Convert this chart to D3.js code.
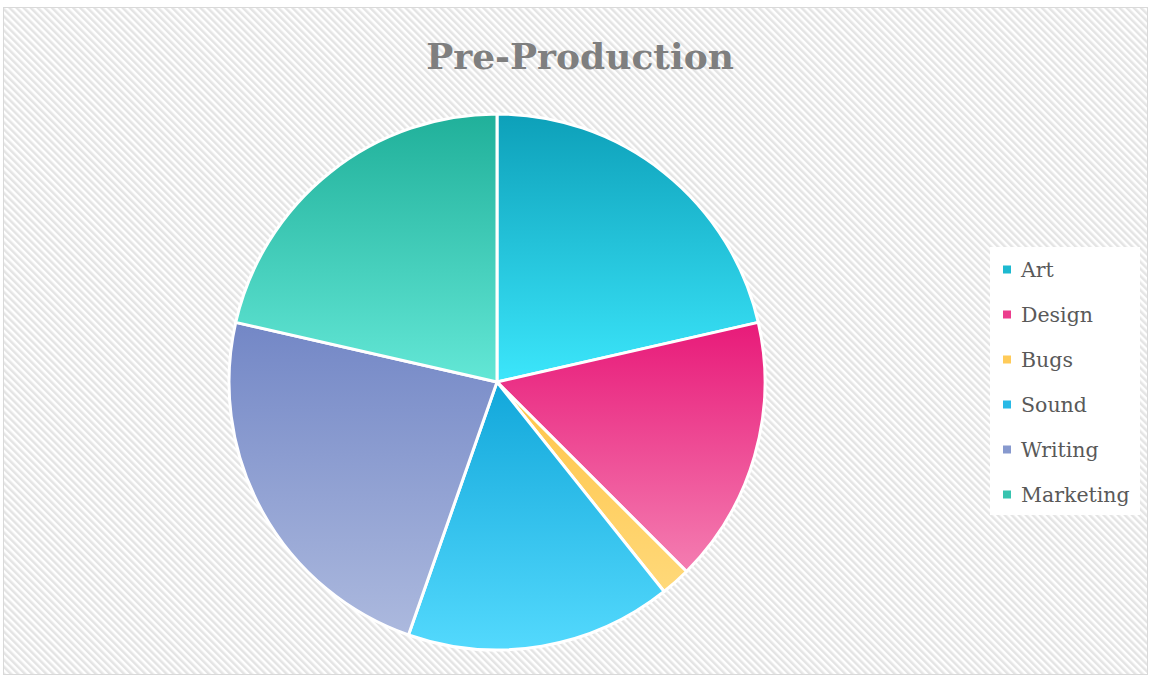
<!DOCTYPE html>
<html>
<head>
<meta charset="utf-8">
<script src="https://cdn.jsdelivr.net/npm/d3@7"></script>
<style>
  html, body { margin: 0; padding: 0; background: #fff; }
  svg { display: block; }
</style>
</head>
<body>
<svg id="chart" width="1151" height="677"></svg>
<script>
// Hours spent per area during pre-production
const categories = ["Art", "Design", "Bugs", "Sound", "Writing", "Marketing"];
const values = [12, 9, 1, 9, 13, 12];
// Gradient stops (top, bottom) for each slice
const topColors = ["#0da0b9", "#e81a79", "#ffc447", "#12a7da", "#7387c6", "#20b09a"];
const bottomColors = ["#3ce6fb", "#f47db1", "#ffd97a", "#53d9fd", "#acb9de", "#63e7d6"];
const chartTitle = "Pre-Production";

const W = 1151, H = 677;
const svg = d3.select("#chart");
const defs = svg.append("defs");

// Diagonal hatched background
const pat = defs.append("pattern")
  .attr("id", "hatch")
  .attr("patternUnits", "userSpaceOnUse")
  .attr("width", 5).attr("height", 20)
  .attr("patternTransform", "rotate(-45)");
pat.append("rect").attr("width", 5).attr("height", 20).attr("fill", "#ffffff");
pat.append("rect").attr("width", 2.5).attr("height", 20).attr("fill", "#e4e4e4");

svg.append("rect").attr("width", W).attr("height", H).attr("fill", "#ffffff");
svg.append("rect")
  .attr("x", 3.5).attr("y", 7.5).attr("width", 1144).attr("height", 667)
  .attr("fill", "url(#hatch)")
  .attr("stroke", "#d9d9d9").attr("stroke-width", 1);

// Title
svg.append("text")
  .attr("x", 580).attr("y", 69)
  .attr("text-anchor", "middle")
  .attr("font-family", "'DejaVu Serif', serif")
  .attr("font-weight", "bold")
  .attr("font-size", 36)
  .attr("fill", "#7f7f7f")
  .text(chartTitle);

// Slice gradients
categories.forEach((c, i) => {
  const g = defs.append("linearGradient")
    .attr("id", "grad" + i)
    .attr("x1", 0).attr("y1", 0).attr("x2", 0).attr("y2", 1);
  g.append("stop").attr("offset", "0%").attr("stop-color", topColors[i]);
  g.append("stop").attr("offset", "100%").attr("stop-color", bottomColors[i]);
});

const cx = 497, cy = 382, radius = 268;
const pie = d3.pie().sort(null).value(d => d.value);
const arc = d3.arc().innerRadius(0).outerRadius(radius);
const data = categories.map((c, i) => ({ name: c, value: values[i], idx: i }));

svg.append("g")
  .attr("transform", `translate(${cx},${cy})`)
  .selectAll("path")
  .data(pie(data))
  .join("path")
  .attr("d", arc)
  .attr("fill", d => `url(#grad${d.data.idx})`)
  .attr("stroke", "#ffffff")
  .attr("stroke-width", 3)
  .attr("stroke-linejoin", "round");

// Legend
svg.append("rect")
  .attr("x", 990).attr("y", 247).attr("width", 150).attr("height", 268)
  .attr("fill", "#ffffff");

const legend = svg.append("g");
const rowY = d3.scalePoint().domain(categories).range([269, 494]);
const items = legend.selectAll("g").data(data).join("g")
  .attr("transform", d => `translate(1003,${rowY(d.name)})`);
items.append("rect")
  .attr("x", 0).attr("y", -3.5).attr("width", 8).attr("height", 8)
  .attr("fill", d => d3.interpolateRgb(topColors[d.idx], bottomColors[d.idx])(0.35));
items.append("text")
  .attr("x", 18).attr("y", 7.5)
  .attr("font-family", "'DejaVu Serif', serif")
  .attr("font-size", 20.5)
  .attr("fill", "#595959")
  .text(d => d.name);
</script>
</body>
</html>
